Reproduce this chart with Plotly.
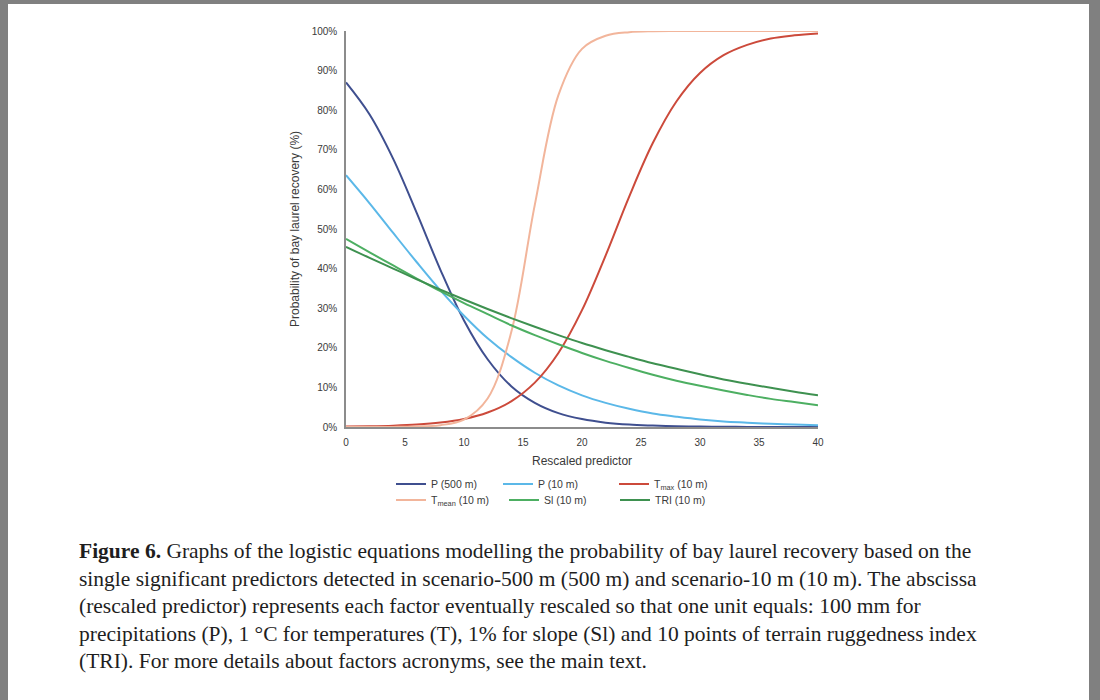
import plotly.graph_objects as go

# ---------------- data ----------------
x_values = [0, 2, 4, 6, 8, 10, 12, 14, 16, 18, 20, 22, 24, 26, 28, 30, 32, 34, 36, 38, 40]

p_500m = [87.0, 78.9, 67.7, 54.0, 39.7, 26.9, 17.1, 10.3, 6.1, 3.5, 2.0, 1.1, 0.6, 0.36, 0.2, 0.11, 0.06, 0.03, 0.02, 0.01, 0.01]
p_10m = [63.6, 56.5, 49.0, 41.6, 34.5, 28.1, 22.4, 17.7, 13.7, 10.5, 8.0, 6.1, 4.6, 3.4, 2.6, 1.9, 1.4, 1.1, 0.8, 0.6, 0.43]
tmax_10m = [0.10, 0.19, 0.34, 0.62, 1.13, 2.04, 3.66, 6.48, 11.2, 18.7, 29.5, 43.3, 58.2, 71.7, 82.2, 89.4, 93.9, 96.5, 98.1, 98.9, 99.4]
tmean_10m = [0.0, 0.01, 0.03, 0.12, 0.47, 1.87, 7.2, 23.9, 56.1, 83.8, 95.5, 98.8, 99.7, 99.93, 99.98, 100.0, 100.0, 100.0, 100.0, 100.0, 100.0]
sl_10m = [47.5, 44.1, 40.8, 37.5, 34.3, 31.3, 28.5, 25.7, 23.2, 20.9, 18.7, 16.7, 14.9, 13.2, 11.7, 10.4, 9.2, 8.1, 7.1, 6.3, 5.5]
tri_10m = [45.5, 42.7, 40.0, 37.3, 34.7, 32.2, 29.8, 27.5, 25.3, 23.2, 21.2, 19.4, 17.7, 16.1, 14.7, 13.3, 12.0, 10.9, 9.9, 8.9, 8.0]

series_names = ["P (500 m)", "P (10 m)", "T<sub>max</sub> (10 m)",
                "T<sub>mean</sub> (10 m)", "Sl (10 m)", "TRI (10 m)"]
series_values = [p_500m, p_10m, tmax_10m, tmean_10m, sl_10m, tri_10m]
series_colors = ["#3f4f8f", "#5bb8e8", "#cc4a3b", "#f2b59b", "#4daf62", "#3e9150"]

y_ticks = [0, 10, 20, 30, 40, 50, 60, 70, 80, 90, 100]
y_tick_labels = ["0%", "10%", "20%", "30%", "40%", "50%", "60%", "70%", "80%", "90%", "100%"]
x_ticks = [0, 5, 10, 15, 20, 25, 30, 35, 40]
x_tick_labels = ["0", "5", "10", "15", "20", "25", "30", "35", "40"]

x_title = "Rescaled predictor"
y_title = "Probability of bay laurel recovery (%)"

caption_lines = [
    "<b>Figure 6.</b> Graphs of the logistic equations modelling the probability of bay laurel recovery based on the",
    "single significant predictors detected in scenario-500 m (500 m) and scenario-10 m (10 m). The abscissa",
    "(rescaled predictor) represents each factor eventually rescaled so that one unit equals: 100 mm for",
    "precipitations (P), 1 °C for temperatures (T), 1% for slope (Sl) and 10 points of terrain ruggedness index",
    "(TRI). For more details about factors acronyms, see the main text.",
]

# ---------------- layout helpers (pixel -> paper) ----------------
W, H = 1100, 700
L, R, T, B = 346, 818, 31, 427


def px2x(px):
    return (px - L) / (R - L)


def py2y(py):
    return (B - py) / (B - T)


fig = go.Figure()

# legend grid: (text start x px, row y px)
legend_pos = [(431, 484), (538, 484), (654, 484),
              (431, 500), (544, 500), (655, 500)]
legend_ids = ["legend", "legend2", "legend3", "legend4", "legend5", "legend6"]

for i, (name, vals, col) in enumerate(zip(series_names, series_values, series_colors)):
    fig.add_trace(go.Scatter(
        x=x_values, y=vals, name=name, mode="lines",
        line=dict(color=col, width=2, shape="spline", smoothing=1.0),
        cliponaxis=False, legend=legend_ids[i],
    ))

legend_layout = {}
for lid, (tx, ty) in zip(legend_ids, legend_pos):
    legend_layout[lid] = dict(
        x=px2x(tx - 40), y=py2y(ty), xanchor="left", yanchor="middle",
        xref="paper", yref="paper",
        bgcolor="rgba(0,0,0,0)", borderwidth=0,
        font=dict(family="Liberation Sans", size=10.5, color="#3a3a3a"),
        itemwidth=30,
    )

gray = "#808080"
shapes = [
    dict(type="rect", xref="paper", yref="paper", x0=px2x(0), x1=px2x(8),
         y0=py2y(H), y1=py2y(0), fillcolor=gray, line=dict(width=0), layer="above"),
    dict(type="rect", xref="paper", yref="paper", x0=px2x(0), x1=px2x(W),
         y0=py2y(4), y1=py2y(0), fillcolor=gray, line=dict(width=0), layer="above"),
    dict(type="rect", xref="paper", yref="paper", x0=px2x(1089), x1=px2x(W),
         y0=py2y(H), y1=py2y(0), fillcolor=gray, line=dict(width=0), layer="above"),
]

annotations = [
    dict(text=x_title, xref="paper", yref="paper", x=px2x(582), y=py2y(461),
         xanchor="center", yanchor="middle", showarrow=False,
         font=dict(family="Liberation Sans", size=12, color="#3a3a3a")),
    dict(text=y_title, xref="paper", yref="paper", x=px2x(295), y=py2y(229),
         xanchor="center", yanchor="middle", showarrow=False, textangle=-90,
         font=dict(family="Liberation Sans", size=12, color="#3a3a3a")),
]
caption_y = [551, 579, 606, 634, 661]
for line, cy in zip(caption_lines, caption_y):
    annotations.append(dict(
        text=line, xref="paper", yref="paper", x=px2x(77), y=py2y(cy),
        xanchor="left", yanchor="middle", showarrow=False, align="left",
        font=dict(family="Liberation Serif", size=21.5, color="#1e1e1e")))

fig.update_layout(
    width=W, height=H,
    margin=dict(l=L, r=W - R, t=T, b=H - B, pad=0),
    paper_bgcolor="white", plot_bgcolor="white",
    showlegend=True,
    shapes=shapes, annotations=annotations,
    xaxis=dict(range=[0, 40], tickmode="array", tickvals=x_ticks, ticktext=x_tick_labels,
               showgrid=False, zeroline=False,
               showline=True, linecolor="#8c8c8c", linewidth=1.5, ticks="",
               ticklabelstandoff=5, layer="below traces",
               tickfont=dict(family="Liberation Sans", size=10, color="#3a3a3a")),
    yaxis=dict(range=[0, 100], tickmode="array", tickvals=y_ticks, ticktext=y_tick_labels,
               showgrid=False, zeroline=False, showline=True, linecolor="#8c8c8c",
               linewidth=1.5, ticks="", ticklabelstandoff=5, layer="below traces",
               tickfont=dict(family="Liberation Sans", size=10, color="#3a3a3a")),
    **legend_layout,
)

fig.write_html("out.html")
